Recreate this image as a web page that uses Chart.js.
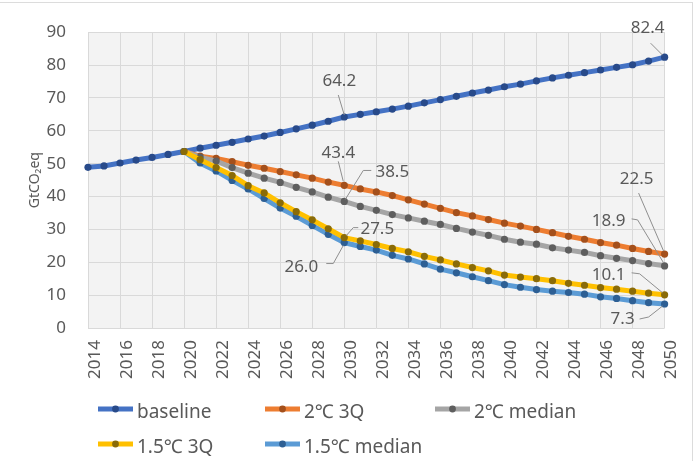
<!DOCTYPE html>
<html><head><meta charset="utf-8">
<script src="https://cdn.jsdelivr.net/npm/chart.js@4/dist/chart.umd.min.js"></script>
<style>
html,body{margin:0;padding:0;background:#fff;}
#wrap{position:relative;width:697px;height:461px;overflow:hidden;}
#frame{position:absolute;left:0;top:2px;width:693px;height:470px;border-top:1px solid #dcdcdc;border-right:1px solid #dcdcdc;box-sizing:border-box;pointer-events:none;}
canvas{position:absolute;left:0;top:0;}
</style></head><body>
<div id="wrap"><canvas id="c" width="697" height="461"></canvas><div id="frame"></div></div>
<script>
// ---- data ----
const years = [2014,2015,2016,2017,2018,2019,2020,2021,2022,2023,2024,2025,2026,2027,2028,2029,2030,2031,2032,2033,2034,2035,2036,2037,2038,2039,2040,2041,2042,2043,2044,2045,2046,2047,2048,2049,2050];
const scenarioYears = [2020,2021,2022,2023,2024,2025,2026,2027,2028,2029,2030,2031,2032,2033,2034,2035,2036,2037,2038,2039,2040,2041,2042,2043,2044,2045,2046,2047,2048,2049,2050];
const seriesNames = ['baseline','2℃ 3Q','2℃ median','1.5℃ 3Q','1.5℃ median'];
const baseline = [48.9,49.3,50.2,51.1,51.9,52.8,53.7,54.7,55.6,56.5,57.5,58.4,59.5,60.6,61.7,62.9,64.2,65.0,65.8,66.6,67.5,68.5,69.5,70.5,71.5,72.4,73.4,74.2,75.2,76.1,76.9,77.7,78.5,79.3,80.1,81.2,82.4];
const twoC3Q = [53.7,52.3,51.6,50.6,49.5,48.6,47.6,46.6,45.6,44.4,43.4,42.3,41.4,40.3,39.0,37.7,36.4,35.1,34.1,33.0,31.9,31.0,30.0,29.0,27.9,27.0,26.0,25.2,24.2,23.3,22.5];
const twoCMedian = [53.7,52.0,50.8,48.8,47.1,45.6,44.3,42.8,41.4,39.8,38.5,37.0,35.8,34.5,33.5,32.5,31.5,30.3,29.2,28.2,27.0,26.1,25.5,24.4,23.7,23.0,22.0,21.2,20.5,19.6,18.9];
const onePt5C3Q = [53.7,51.2,48.8,46.4,43.3,41.1,38.1,35.4,32.9,30.2,27.5,26.5,25.4,24.2,23.2,21.8,20.7,19.5,18.4,17.4,16.1,15.5,15.0,14.4,13.6,13.0,12.3,11.8,11.2,10.6,10.1];
const onePt5CMedian = [53.7,50.2,47.8,44.9,42.3,39.4,36.5,34.0,31.2,28.5,26.0,24.8,23.7,22.1,21.0,19.5,17.9,16.8,15.6,14.4,13.2,12.4,11.7,11.2,10.8,10.3,9.5,9.0,8.3,7.7,7.3];
const yAxisTitle = 'GtCO₂eq';
const labelledYears = [2030, 2050];

// ---- styles ----
const FONT = '"Noto Sans", "Noto Sans CJK KR", sans-serif';
const TXT = '#595959';
const lineColors = ['#4472C4','#ED7D31','#A5A5A5','#FFC000','#5B9BD5'];
const dotColors  = ['#284A8A','#A4501C','#5E5E5E','#8A6B08','#2D5F94'];
const drawOrder  = [5,4,3,1,2];

function pts(xs, ys){ return ys.map((v,i)=>({x:xs[i], y:v})); }
const seriesData = [pts(years,baseline), pts(scenarioYears,twoC3Q), pts(scenarioYears,twoCMedian), pts(scenarioYears,onePt5C3Q), pts(scenarioYears,onePt5CMedian)];

const datasets = seriesNames.map((n,i)=>({
  label:n, data:seriesData[i], borderColor:lineColors[i], backgroundColor:dotColors[i],
  borderWidth:5, pointRadius:3.6, pointBackgroundColor:dotColors[i], pointBorderWidth:0,
  pointHoverRadius:3.6, tension:0, clip:false, order:drawOrder[i]
}));

// label placement (offsets relative to point): dataset, year, text dx/dy, leader path
const labelSpecs = [
  {ds:0, year:2050, dx:-17, dy:-29, path:[[-14,-14],[-2,-2]]},
  {ds:0, year:2030, dx:-5,  dy:-36, path:[[-6,-22],[0,-2]]},
  {ds:1, year:2030, dx:-6,  dy:-32, path:[[-6,-24],[-1,-4]]},
  {ds:2, year:2030, dx:48,  dy:-29, path:[[27,-31],[19,-31],[1,-2]]},
  {ds:3, year:2030, dx:33,  dy:-8,  path:[[14,-10],[9,-10],[2,-2]]},
  {ds:4, year:2030, dx:-43, dy:25,  path:[[-18,21],[-11,21],[-1,3]]},
  {ds:1, year:2050, dx:-28, dy:-75, path:[[-26,-61],[-1,-3]]},
  {ds:2, year:2050, dx:-56, dy:-45, path:[[-33,-47],[-27,-46],[-1,-3]]},
  {ds:3, year:2050, dx:-56, dy:-20, path:[[-33,-22],[-25,-21],[-2,-2]]},
  {ds:4, year:2050, dx:-42, dy:15,  path:[[-25,15],[-16,13],[-2,2]]}
];

const plotBg = {
  id:'plotBg',
  beforeDraw(chart){
    const {ctx, chartArea:a} = chart;
    ctx.save(); ctx.fillStyle='#f3f3f3';
    ctx.fillRect(a.left, a.top, a.right-a.left, a.bottom-a.top); ctx.restore();
  }
};

const dataLabels = {
  id:'dataLabels',
  afterDatasetsDraw(chart){
    const ctx = chart.ctx;
    ctx.save();
    ctx.font = '17px ' + FONT; ctx.fillStyle = TXT;
    ctx.textAlign='center'; ctx.textBaseline='middle';
    ctx.strokeStyle='#8f8f8f'; ctx.lineWidth=1;
    labelSpecs.forEach(s=>{
      const d = chart.data.datasets[s.ds].data;
      const idx = d.findIndex(p=>p.x===s.year);
      const el = chart.getDatasetMeta(s.ds).data[idx];
      ctx.beginPath();
      s.path.forEach((p,j)=>{ const X=el.x+p[0], Y=el.y+p[1]; j?ctx.lineTo(X,Y):ctx.moveTo(X,Y); });
      ctx.stroke();
      ctx.fillText(d[idx].y.toFixed(1), el.x+s.dx, el.y+s.dy);
    });
    ctx.restore();
  }
};

const customLegend = {
  id:'customLegend',
  afterDraw(chart){
    const ctx = chart.ctx;
    const cols=[98,265,435], rows=[409,444];
    ctx.save();
    ctx.font='19px ' + FONT; ctx.textBaseline='middle'; ctx.textAlign='left';
    chart.data.datasets.forEach((ds,i)=>{
      const x = cols[i%3], y = rows[Math.floor(i/3)];
      ctx.strokeStyle = ds.borderColor; ctx.lineWidth=5; ctx.lineCap='butt';
      ctx.beginPath(); ctx.moveTo(x,y); ctx.lineTo(x+35,y); ctx.stroke();
      ctx.fillStyle = ds.pointBackgroundColor;
      ctx.beginPath(); ctx.arc(x+17.5,y,3.4,0,Math.PI*2); ctx.fill();
      ctx.fillStyle = TXT;
      ctx.fillText(ds.label, x+39, y+4);
    });
    ctx.restore();
  }
};

Chart.defaults.font.family = FONT;
Chart.defaults.color = TXT;

new Chart(document.getElementById('c'), {
  type:'line',
  data:{ datasets },
  options:{
    responsive:false, animation:false, devicePixelRatio:1,
    layout:{ padding:{ left:0, top:24, right:25, bottom:81 } },
    plugins:{ legend:{display:false}, tooltip:{enabled:false} },
    scales:{
      x:{
        type:'linear', min:years[0], max:years[years.length-1],
        afterFit(s){ s.height = 52; },
        grid:{ color:'#d9d9d9', lineWidth:1, drawTicks:false },
        border:{ display:false },
        ticks:{ stepSize:2, autoSkip:false, minRotation:90, maxRotation:90, padding:12, labelOffset:7,
                font:{size:17}, color:TXT, callback:v=>String(v) }
      },
      y:{
        min:0, max:90,
        afterFit(s){ s.width = 88; },
        grid:{ color:'#d9d9d9', lineWidth:1, drawTicks:false },
        border:{ display:false },
        ticks:{ stepSize:10, padding:22, font:{size:17}, color:TXT },
        title:{ display:true, text:yAxisTitle, font:{size:14}, color:TXT, padding:{top:27, bottom:0} }
      }
    }
  },
  plugins:[plotBg, dataLabels, customLegend]
});
</script>
</body></html>
